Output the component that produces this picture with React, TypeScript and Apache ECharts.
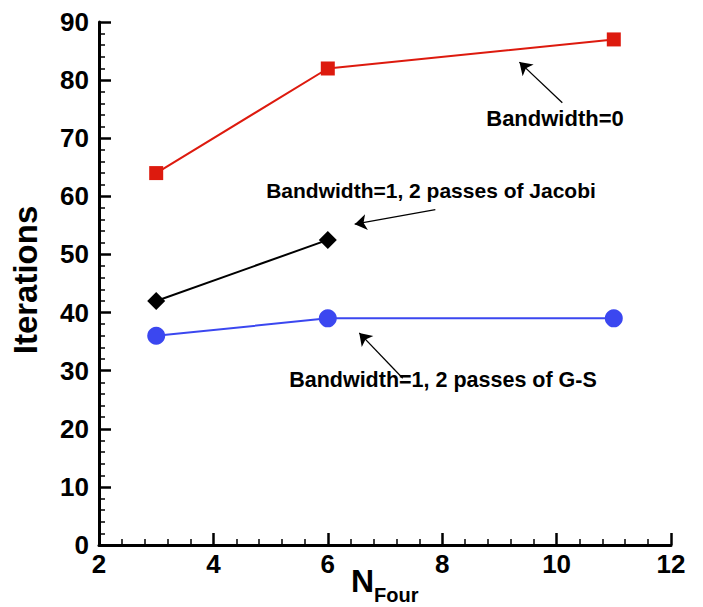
import React, { useEffect, useRef } from "react";
import * as echarts from "echarts";

// Fourier mode count on the x axis
const nFour = [3, 6, 11];
const bw0Iter = [64, 82, 87];
const jacobiNFour = [3, 6];
const jacobiIter = [42, 52.5];
const gsIter = [36, 39, 39];

const xTicks = [2, 4, 6, 8, 10, 12];
const yTicks = [0, 10, 20, 30, 40, 50, 60, 70, 80, 90];

// Annotation arrows in data units: [tail, head]
const arrows: [number, number][][] = [
  [[10.1, 76.1], [9.35, 83.1]],
  [[7.88, 57.7], [6.47, 55.2]],
  [[7.31, 28.7], [6.55, 36.5]],
];

const FONT = "'Liberation Sans', Arial, Helvetica, sans-serif";

export default function App() {
  const ref = useRef<HTMLDivElement>(null);
  useEffect(() => {
    if (!ref.current) return;
    const chart = echarts.init(ref.current, null, { renderer: "svg" });
    const label = { show: true, color: "#000", fontSize: 26, fontWeight: "bold", fontFamily: FONT };
    const axisLine = { show: true, onZero: false, lineStyle: { color: "#000", width: 3 } };
    const axisTick = { show: true, inside: true, length: 12, lineStyle: { color: "#000", width: 2.5 } };
    const minorTick = { show: true, splitNumber: 5, length: 6, lineStyle: { color: "#000", width: 1.5 } };
    chart.setOption({
      animation: false,
      backgroundColor: "#fff",
      grid: { left: 99, right: 32, top: 22, bottom: 62, containLabel: false },
      xAxis: {
        type: "value",
        min: xTicks[0],
        max: xTicks[xTicks.length - 1],
        interval: 2,
        axisLine,
        axisTick,
        minorTick,
        splitLine: { show: false },
        axisLabel: { ...label, margin: 6 },
      },
      yAxis: {
        type: "value",
        min: yTicks[0],
        max: yTicks[yTicks.length - 1],
        interval: 10,
        axisLine,
        axisTick,
        minorTick,
        splitLine: { show: false },
        axisLabel: { ...label, margin: 10 },
      },
      series: [
        {
          type: "line",
          data: nFour.map((x, i) => [x, bw0Iter[i]]),
          symbol: "rect",
          symbolSize: 14,
          itemStyle: { color: "#dd1a0e" },
          lineStyle: { color: "#dd1a0e", width: 2 },
        },
        {
          type: "line",
          data: jacobiNFour.map((x, i) => [x, jacobiIter[i]]),
          symbol: "diamond",
          symbolSize: 18,
          itemStyle: { color: "#000" },
          lineStyle: { color: "#000", width: 2 },
        },
        {
          type: "line",
          data: nFour.map((x, i) => [x, gsIter[i]]),
          symbol: "circle",
          symbolSize: 18,
          itemStyle: { color: "#3b47f0" },
          lineStyle: { color: "#3b47f0", width: 2 },
        },
        {
          type: "lines",
          coordinateSystem: "cartesian2d",
          symbol: ["none", "arrow"],
          symbolSize: [0, 12],
          lineStyle: { color: "#000", width: 1.3, opacity: 1 },
          itemStyle: { color: "#000" },
          data: arrows.map((c) => ({ coords: c })),
          silent: true,
        },
      ],
      graphic: [
        {
          type: "text",
          x: 555,
          y: 118,
          style: {
            text: "Bandwidth=0",
            fontSize: 22,
            fontWeight: "bold",
            fontFamily: FONT,
            fill: "#000",
            align: "center",
            verticalAlign: "middle",
          },
        },
        {
          type: "text",
          x: 431,
          y: 190,
          style: {
            text: "Bandwidth=1, 2 passes of Jacobi",
            fontSize: 21,
            fontWeight: "bold",
            fontFamily: FONT,
            fill: "#000",
            align: "center",
            verticalAlign: "middle",
          },
        },
        {
          type: "text",
          x: 443,
          y: 380,
          style: {
            text: "Bandwidth=1, 2 passes of G-S",
            fontSize: 21.5,
            fontWeight: "bold",
            fontFamily: FONT,
            fill: "#000",
            align: "center",
            verticalAlign: "middle",
          },
        },
        {
          type: "text",
          x: 25,
          y: 280,
          rotation: Math.PI / 2,
          style: {
            text: "Iterations",
            fontSize: 33,
            fontWeight: "bold",
            fontFamily: FONT,
            fill: "#000",
            align: "center",
            verticalAlign: "middle",
          },
        },
        {
          type: "text",
          x: 351,
          y: 585,
          style: {
            text: "{n|N}{s|Four}",
            fontFamily: FONT,
            fill: "#000",
            verticalAlign: "middle",
            rich: {
              n: { fontSize: 32, fontWeight: "bold", fontFamily: FONT, verticalAlign: "top", padding: [0, 0, 8, 0] },
              s: { fontSize: 20, fontWeight: "bold", fontFamily: FONT, verticalAlign: "bottom", padding: [14, 0, 0, 0] },
            },
          },
        },
      ],
    });
    return () => chart.dispose();
  }, []);
  return <div ref={ref} style={{ width: 703, height: 607, position: "absolute", left: 0, top: 0 }} />;
}
